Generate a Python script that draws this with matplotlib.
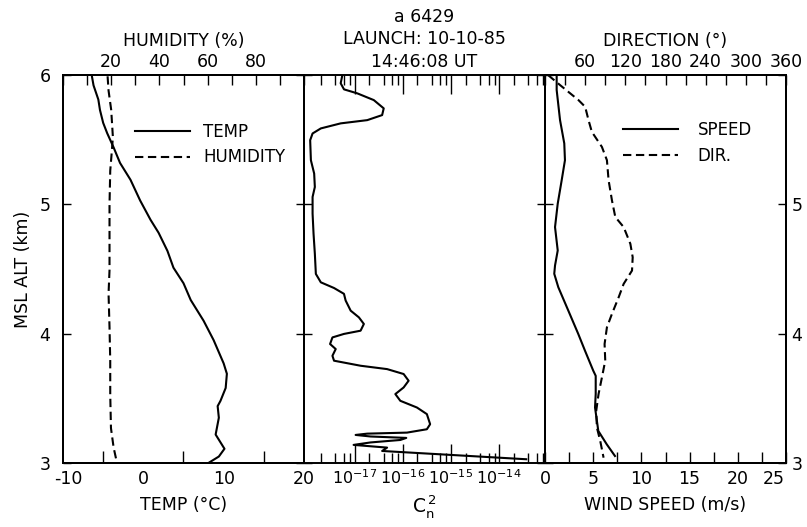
import numpy as np
import matplotlib
matplotlib.use("Agg")
import matplotlib.pyplot as plt
import matplotlib.transforms as mtransforms
from matplotlib.ticker import MultipleLocator, FixedLocator, LogLocator, NullFormatter, FuncFormatter

# ---------------- data ----------------
temp_alt = [5.99, 5.92, 5.81, 5.73, 5.63, 5.55, 5.44, 5.32, 5.19, 5.03, 4.88, 4.78, 4.64,
            4.51, 4.39, 4.26, 4.10, 3.95, 3.77, 3.69, 3.58, 3.48, 3.44, 3.35, 3.22, 3.16,
            3.11, 3.05, 3.0]
temp_c = [-6.4, -6.2, -5.6, -5.4, -5.0, -4.5, -3.7, -2.9, -1.6, -0.4, 0.9, 1.9, 3.0,
          3.75, 5.0, 5.9, 7.5, 8.75, 10.0, 10.4, 10.25, 9.6, 9.25, 9.4, 9.0, 9.6,
          10.1, 9.4, 8.1]

hum_alt = [5.99, 5.88, 5.73, 5.52, 5.42, 5.26, 5.0, 4.49, 4.31, 4.05, 3.79, 3.53, 3.27, 3.12, 3.0]
hum_pct = [18.5, 18.9, 20.0, 20.7, 20.3, 19.6, 19.3, 19.3, 18.9, 19.3, 19.6, 19.6, 19.9, 21.0, 22.4]

cn2_alt = [6.0, 5.936, 5.889, 5.858, 5.806, 5.742, 5.690, 5.651, 5.626, 5.587, 5.548,
           5.496, 5.341, 5.238, 5.134, 5.057, 4.928, 4.773, 4.618, 4.462, 4.397, 4.353,
           4.308, 4.256, 4.178, 4.126, 4.075, 4.023, 3.998, 3.971, 3.920, 3.881, 3.829,
           3.791, 3.752, 3.726, 3.688, 3.636, 3.584, 3.533, 3.481, 3.429, 3.378, 3.300,
           3.261, 3.235, 3.227, 3.217, 3.205, 3.194, 3.178, 3.159, 3.140, 3.119, 3.093,
           3.029]
cn2_log = [-17.254, -17.289, -17.22, -16.944, -16.602, -16.396, -16.429, -16.738, -17.289,
           -17.701, -17.872, -17.922, -17.907, -17.839, -17.825, -17.872, -17.872, -17.852,
           -17.825, -17.804, -17.701, -17.427, -17.221, -17.186, -17.082, -16.911, -16.808,
           -16.876, -17.221, -17.46, -17.509, -17.392, -17.46, -17.427, -16.876, -16.326,
           -15.983, -15.88, -15.983, -16.155, -16.052, -15.707, -15.501, -15.433, -15.501,
           -15.913, -16.738, -16.979, -16.67, -15.928, -16.052, -16.67, -17.021, -16.326,
           -16.429, -13.439]

spd_alt = [6.0, 5.884, 5.651, 5.471, 5.341, 5.186, 5.005, 4.824, 4.643, 4.527, 4.463,
           4.359, 4.178, 3.998, 3.868, 3.713, 3.674, 3.533, 3.429, 3.248, 3.145, 3.054]
spd_ms = [1.21, 1.21, 1.56, 2.0, 2.07, 1.73, 1.32, 1.04, 1.32, 1.04, 0.96,
          1.38, 2.42, 3.45, 4.15, 5.01, 5.26, 5.26, 5.19, 5.53, 6.40, 7.26]

dir_alt = [6.0, 5.922, 5.806, 5.754, 5.651, 5.560, 5.444, 5.341, 5.186, 5.031, 4.902,
           4.824, 4.695, 4.591, 4.488, 4.385, 4.281, 4.153, 4.049, 3.920, 3.791, 3.661,
           3.533, 3.403, 3.274, 3.171, 3.041]
dir_deg = [4.5, 22.5, 50, 60, 65, 70, 85, 92.5, 95, 100, 105, 117.5, 127.5, 131, 130,
           117.5, 110, 100, 92.5, 89, 90, 85, 80, 76.5, 77.5, 82.5, 87.5]

temp_ticks = [-10, 0, 10, 20]
hum_ticks = [20, 40, 60, 80]
cn2_ticks = [1e-17, 1e-16, 1e-15, 1e-14]
cn2_labels = [r'$10^{-17}$', r'$10^{-16}$', r'$10^{-15}$', r'$10^{-14}$']
spd_ticks = [0, 5, 10, 15, 20, 25]
dir_ticks = [60, 120, 180, 240, 300, 360]
alt_ticks = [3, 4, 5, 6]

# ---------------- figure ----------------
FS = 12.5
plt.rcParams['font.family'] = ['DejaVu Sans']
plt.rcParams['font.size'] = FS
plt.rcParams['axes.unicode_minus'] = False
W, H = 807, 527
fig = plt.figure(figsize=(W / 100, H / 100), dpi=100)

x0, y0 = 63 / W, (H - 463) / H
pw, ph = 241 / W, 388 / H
axL = fig.add_axes([x0, y0, pw, ph])
axM = fig.add_axes([x0 + pw, y0, pw, ph])
axR = fig.add_axes([x0 + 2 * pw, y0, pw, ph])

LW = 1.5
DASH = (0, (4, 2.2))
for ax in (axL, axM, axR):
    ax.set_ylim(3, 6)
    for s in ax.spines.values():
        s.set_linewidth(1.4)
    ax.yaxis.set_major_locator(FixedLocator(alt_ticks))
    ax.tick_params(axis='y', which='major', direction='in', length=6, width=1,
                   left=True, right=True, labelleft=False, labelright=False,
                   labelsize=FS, pad=9)
    ax.tick_params(axis='x', which='both', direction='in', width=1, top=False,
                   labelsize=FS, pad=5)

# ---- left panel ----
axL.set_xlim(-10, 20)
axL.xaxis.set_major_locator(FixedLocator(temp_ticks))
axL.xaxis.set_minor_locator(MultipleLocator(5))
axL.tick_params(axis='x', which='major', length=0)
axL.tick_params(axis='x', which='minor', length=9)
axL.tick_params(axis='y', labelleft=True)
axL.set_xlabel('TEMP (°C)', labelpad=6)
axL.set_ylabel('MSL ALT (km)', labelpad=5)
lt, = axL.plot(temp_c, temp_alt, color='black', lw=LW)

axLt = axL.twiny()
axLt.set_xlim(0, 100)
axLt.xaxis.set_major_locator(FixedLocator(hum_ticks))
axLt.xaxis.set_minor_locator(MultipleLocator(10))
axLt.tick_params(axis='x', which='both', direction='in', length=7, width=1,
                 labelsize=FS, pad=3)
axLt.set_xlabel('HUMIDITY (%)', labelpad=5)
lh, = axLt.plot(hum_pct, hum_alt, color='black', lw=LW, ls=DASH)
axLt.legend([lt, lh], ['TEMP', 'HUMIDITY'], loc='upper left',
            bbox_to_anchor=(0.235, 0.915), frameon=False, handlelength=3.3,
            handletextpad=0.8, labelspacing=0.45, fontsize=FS - 0.5)

# ---- middle panel ----
axM.set_xscale('log')
axM.set_xlim(10 ** -18.05, 10 ** -13.05)
axM.xaxis.set_major_locator(FixedLocator(cn2_ticks))
axM.xaxis.set_minor_locator(LogLocator(base=10, subs=[2, 4, 6, 8], numticks=20))
axM.xaxis.set_minor_formatter(NullFormatter())
axM.tick_params(axis='x', which='major', length=14, top=True, labeltop=False,
                pad=4, labelsize=11.5)
axM.tick_params(axis='x', which='minor', length=7, top=True)
axM.set_xticklabels(cn2_labels)
axM.set_xlabel(r'$\mathregular{C_n^{\,2}}$', labelpad=4, fontsize=FS + 1)
axM.plot([10 ** v for v in cn2_log], cn2_alt, color='black', lw=LW)
axM.set_title('a 6429\nLAUNCH: 10-10-85\n14:46:08 UT', fontsize=FS,
              linespacing=1.3, pad=6)

# ---- right panel ----
axR.set_xlim(0, 25)
axR.xaxis.set_major_locator(FixedLocator(spd_ticks))
axR.xaxis.set_minor_locator(MultipleLocator(2.5))
axR.tick_params(axis='x', which='both', length=8)
axR.tick_params(axis='y', labelright=True, pad=4)
axR.yaxis.set_major_formatter(FuncFormatter(lambda v, p: '' if v > 5.5 else f'{v:.0f}'))
axR.set_xlabel('WIND SPEED (m/s)', labelpad=6)
ls_, = axR.plot(spd_ms, spd_alt, color='black', lw=LW)

axRt = axR.twiny()
axRt.set_xlim(0, 360)
axRt.xaxis.set_major_locator(FixedLocator(dir_ticks))
axRt.xaxis.set_minor_locator(MultipleLocator(30))
axRt.tick_params(axis='x', which='both', direction='in', length=7, width=1,
                 labelsize=FS, pad=3)
axRt.set_xlabel('DIRECTION (°)', labelpad=5)
ld, = axRt.plot(dir_deg, dir_alt, color='black', lw=LW, ls=DASH)
axRt.legend([ls_, ld], ['SPEED', 'DIR.'], loc='upper left',
            bbox_to_anchor=(0.26, 0.92), frameon=False, handlelength=3.3,
            handletextpad=1.2, labelspacing=0.45, fontsize=FS - 0.5)

for a in (axLt, axRt):
    for s in a.spines.values():
        s.set_linewidth(1.4)

# nudge edge tick labels as in the reference
fig.canvas.draw()
lab_first = axL.get_xticklabels()[0]
lab_first.set_transform(lab_first.get_transform() +
                        mtransforms.ScaledTranslation(5 / 100, 0, fig.dpi_scale_trans))
lab_last = axR.get_xticklabels()[-1]
lab_last.set_horizontalalignment('right')
lab_last.set_transform(lab_last.get_transform() +
                       mtransforms.ScaledTranslation(-1 / 100, 0, fig.dpi_scale_trans))

fig.savefig('out.png', dpi=100)
